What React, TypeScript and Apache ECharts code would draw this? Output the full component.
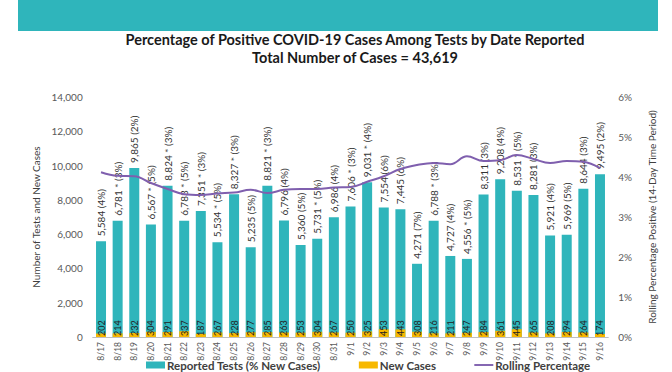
import React, { useEffect, useRef } from 'react';
import * as echarts from 'echarts';

const dates = ['8/17','8/18','8/19','8/20','8/21','8/22','8/23','8/24','8/25','8/26','8/27','8/28','8/29','8/30','8/31','9/1','9/2','9/3','9/4','9/5','9/6','9/7','9/8','9/9','9/10','9/11','9/12','9/13','9/14','9/15','9/16'];
const tests = [5584,6781,9865,6567,8824,6783,7351,5534,8327,5235,8821,6796,5360,5731,6986,7606,9031,7554,7445,4271,6788,4727,4556,8311,9208,8531,8281,5921,5969,8644,9495];
const newCasePct = [4,3,2,5,3,5,3,5,3,5,3,4,5,5,4,3,4,6,6,7,3,4,5,3,4,5,3,4,5,3,2];
const flagged = [false,true,false,true,true,true,true,true,true,false,true,false,false,true,false,true,true,false,false,false,true,false,true,false,false,true,false,false,false,false,false];
const newCases = [202,214,232,304,291,337,187,267,228,277,285,263,253,304,267,250,325,453,443,308,216,211,247,284,361,445,265,208,294,264,174];
const rolling = [4.12,4.03,4.02,3.85,3.7,3.57,3.55,3.59,3.61,3.68,3.6,3.68,3.7,3.7,3.74,3.75,3.88,4.02,4.2,4.3,4.35,4.32,4.52,4.4,4.42,4.55,4.45,4.35,4.4,4.38,4.22];

const titleText = 'Percentage of Positive COVID-19 Cases Among Tests by Date Reported';
const subTitleText = 'Total Number of Cases = 43,619';

const FONT = 'Lato';
const TEAL = '#2fb5bb';
const GOLD = '#f7b800';
const PURPLE = '#7f5fae';

export default function App() {
  const ref = useRef<HTMLDivElement>(null);
  useEffect(() => {
    if (!ref.current) return;
    const chart = echarts.init(ref.current, null, { renderer: 'svg' });
    chart.setOption({
      animation: false,
      textStyle: { fontFamily: FONT },
      graphic: [
        { type: 'rect', shape: { x: 18, y: 0, width: 640, height: 31 }, style: { fill: TEAL } },
      ],
      title: {
        text: titleText + '\n' + subTitleText,
        left: 350,
        textAlign: 'center',
        top: 25,
        textStyle: { fontFamily: FONT, fontSize: 14.5, fontWeight: 'bold', color: '#1a1a1a', lineHeight: 18 },
      },
      legend: {
        bottom: 0,
        left: 141,
        padding: [2, 5, 1, 5],
        itemGap: 38,
        itemWidth: 19,
        itemHeight: 7,
        textStyle: { fontFamily: FONT, fontSize: 11.5, fontWeight: 'bold', color: '#404040', padding: [0, 0, 0, -3] },
        data: [
          { name: 'Reported Tests (% New Cases)', icon: 'rect' },
          { name: 'New Cases', icon: 'rect' },
          { name: 'Rolling Percentage', icon: 'path://M0,0 L20,0 L20,2 L0,2 Z' },
        ],
      },
      grid: { left: 92.7, right: 63.7, top: 97, bottom: 35 },
      xAxis: {
        type: 'category',
        data: dates,
        axisLine: { lineStyle: { color: '#bfbfbf' } },
        axisTick: { show: false },
        axisLabel: { rotate: 90, fontSize: 8.5, color: '#595959', margin: 5, fontFamily: FONT },
      },
      yAxis: [
        {
          type: 'value', min: 0, max: 14000, interval: 2000,
          splitLine: { show: false },
          axisLine: { show: false },
          axisTick: { show: false },
          axisLabel: { fontSize: 10, color: '#595959', margin: 10, fontFamily: FONT },
          name: 'Number of Tests and New Cases',
          nameLocation: 'middle', nameGap: 45, nameRotate: 90,
          nameTextStyle: { fontSize: 10, color: '#404040', fontFamily: FONT },
        },
        {
          type: 'value', min: 0, max: 6, interval: 1,
          splitLine: { show: false },
          axisLine: { show: false },
          axisTick: { show: false },
          axisLabel: { fontSize: 10, color: '#595959', margin: 10, formatter: '{value}%', fontFamily: FONT },
          name: 'Rolling Percentage Positive (14-Day Time Period)',
          nameLocation: 'middle', nameGap: 39, nameRotate: 90,
          nameTextStyle: { fontSize: 10, color: '#404040', fontFamily: FONT },
        },
      ],
      series: [
        {
          name: 'Reported Tests (% New Cases)',
          type: 'bar',
          data: tests,
          barWidth: 10,
          itemStyle: { color: TEAL },
          label: {
            show: true, position: 'top', rotate: 90, align: 'left', verticalAlign: 'middle', distance: 5,
            fontSize: 10, color: '#333', fontFamily: FONT,
            formatter: (p: any) => {
              const i = p.dataIndex;
              return tests[i].toLocaleString('en-US') + (flagged[i] ? ' * ' : ' ') + '(' + newCasePct[i] + '%)';
            },
          },
        },
        {
          name: 'New Cases',
          type: 'bar',
          data: newCases,
          barWidth: 10,
          barGap: '-100%',
          itemStyle: { color: GOLD },
          label: {
            show: true, position: 'insideBottom', rotate: 90, align: 'left', verticalAlign: 'middle', distance: 1,
            fontSize: 9, color: '#222', fontFamily: FONT,
          },
        },
        {
          name: 'Rolling Percentage',
          type: 'line',
          yAxisIndex: 1,
          data: rolling,
          smooth: 0.4,
          symbol: 'none',
          lineStyle: { color: PURPLE, width: 2 },
          itemStyle: { color: PURPLE },
          z: 5,
        },
      ],
    });
    return () => chart.dispose();
  }, []);
  return <div ref={ref} style={{ position: 'absolute', left: 0, top: 0, width: 672, height: 372 }} />;
}
